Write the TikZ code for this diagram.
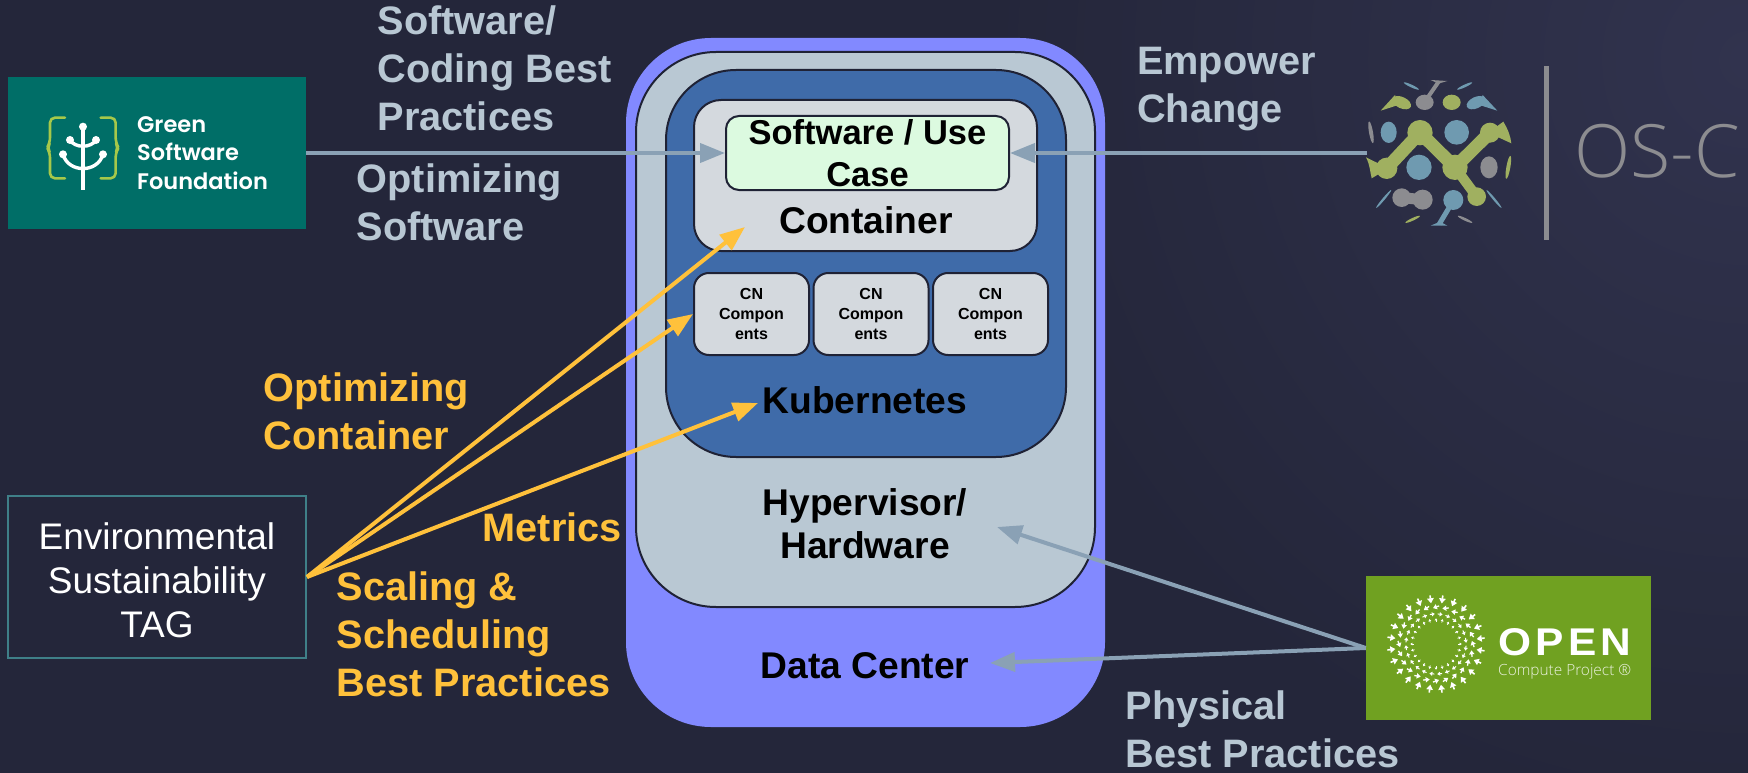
\documentclass[tikz,border=0pt]{standalone}
\usepackage{fontspec}
\usepackage{graphicx}
\usetikzlibrary{arrows.meta,calc}
\setmainfont{Liberation Sans}
\newfontfamily\poppfont{Poppins SemiBold}
\newfontfamily\lightfont{Open Sans Light}
\definecolor{bgbase}{HTML}{24263A}
\definecolor{bglight}{HTML}{31334E}
\definecolor{outerc}{HTML}{8289FF}
\definecolor{hyperc}{HTML}{B9C8D3}
\definecolor{kubec}{HTML}{3F6BA9}
\definecolor{contc}{HTML}{D4D9DE}
\definecolor{softc}{HTML}{DCFAE0}
\definecolor{strokec}{HTML}{1F2235}
\definecolor{arrowgray}{HTML}{8AA1B5}
\definecolor{labgray}{HTML}{B8C7D3}
\definecolor{labyellow}{HTML}{FFC13B}
\definecolor{gsfc}{HTML}{006E67}
\definecolor{ocpc}{HTML}{70A121}
\definecolor{gsfbrace}{HTML}{A6C84A}
\definecolor{gg}{HTML}{A0B060}
\definecolor{gb}{HTML}{6F9AB0}
\definecolor{gy}{HTML}{8C8C90}
\definecolor{tagc}{HTML}{3F7F88}
\newcommand\tl[1]{\begin{tabular}[t]{@{}l@{}}#1\end{tabular}}
\newcommand\tc[1]{\begin{tabular}[t]{@{}c@{}}#1\end{tabular}}
\tikzset{
  box/.style={draw=strokec,line width=2pt,rounded corners=#1,inner sep=0pt},
  graylab/.style={anchor=base west,inner sep=0pt,text=labgray,font=\fontsize{39.7}{48}\selectfont\bfseries},
  yellowlab/.style={anchor=base west,inner sep=0pt,text=labyellow,font=\fontsize{39.7}{48}\selectfont\bfseries},
  blacklab/.style={anchor=base,inner sep=0pt,text=black,font=\fontsize{37.2}{43}\selectfont\bfseries},
  cnbox/.style={box=15pt,fill=contc,minimum width=115pt,minimum height=82pt,align=center,text=black,font=\fontsize{16}{20}\selectfont\bfseries},
  grayarrow/.style={draw=arrowgray,line width=4pt,-{Triangle[length=25pt,width=19pt]}},
  yellowarrow/.style={draw=labyellow,line width=4pt,-{Triangle[length=25pt,width=19pt]}}
}
\begin{document}
\begin{tikzpicture}[x=1pt,y=-1pt]
\useasboundingbox (0,0) rectangle (1748,773);
\fill[bgbase] (0,0) rectangle (1748,773);
\begin{scope}
\clip (0,0) rectangle (1748,773);
\shade[inner color=bglight,outer color=bgbase] (1748,60) circle (760);
\end{scope}

% nested boxes
\node[rounded corners=85pt,fill=outerc,minimum width=479pt,minimum height=689pt,inner sep=0pt] (dc) at (865.5,382.5) {};
\node[box=80pt,fill=hyperc,minimum width=459pt,minimum height=555pt] (hv) at (865.5,329.5) {};
\node[box=70pt,fill=kubec,minimum width=400pt,minimum height=387pt] (k8s) at (866,263.5) {};
\node[box=27pt,fill=contc,minimum width=343pt,minimum height=151pt] (cont) at (865.5,175.5) {};
\node[box=13pt,fill=softc,minimum width=283pt,minimum height=74pt,align=center,text=black,font=\fontsize{34.5}{42}\selectfont\bfseries] (soft) at (867.5,153) {Software / Use\\Case};
\node[cnbox] (cn1) at (751.5,314) {CN\\Compon\\ents};
\node[cnbox] (cn2) at (871,314) {CN\\Compon\\ents};
\node[cnbox] (cn3) at (990.5,314) {CN\\Compon\\ents};

\node[blacklab] (contl) at (866,233) {Container};
\node[blacklab] (kubl) at (865,413) {Kubernetes};
\node[blacklab] (hvl) at (865,515) {\tc{Hypervisor/\\Hardware}};
\node[blacklab] (dcl) at (865,678) {Data Center};

% Green Software Foundation
\node[fill=gsfc,minimum width=298pt,minimum height=152pt,inner sep=0pt] (gsf) at (157,153) {};
\begin{scope}[shift={(0,50)},x=0.3333pt,y=-0.3333pt]
\draw[gsfbrace,line width=2.6pt,line cap=round,line join=round,rounded corners=5pt]
 (195,203) -- (150,203) -- (150,278) -- (141,293) -- (150,308) -- (150,385) -- (195,385);
\draw[gsfbrace,line width=2.6pt,line cap=round,line join=round,rounded corners=5pt]
 (302,203) -- (347,203) -- (347,278) -- (356,293) -- (347,308) -- (347,385) -- (302,385);
\draw[white,line width=3.6pt] (249,230) -- (249,420);
\draw[white,line width=3.4pt] (210,270) .. controls (225,295) and (273,295) .. (288,270);
\draw[white,line width=3.4pt] (189,313) .. controls (205,370) and (293,370) .. (309,313);
\fill[white] (249,230) circle (12) (210,270) circle (12) (288,270) circle (12) (189,313) circle (12) (309,313) circle (12);
\end{scope}
\node[anchor=base west,inner sep=0pt,text=white,font=\fontsize{22.5}{28.5}\selectfont\poppfont] (gsft) at (137,132) {\tl{Green\\Software\\Foundation}};

% OS-C logo
\begin{scope}[shift={(1340,50)},x=0.3333pt,y=-0.3333pt]
\draw[gg,line width=13pt,line join=round] (140,355) -- (240,248) -- (345,352) -- (450,248);
\draw[gg,line width=10pt] (345,352) -- (410,440);
\fill[gg] (240,248) circle (38) (345,352) circle (38) (140,355) circle (32) (450,248) circle (30) (410,440) circle (28);
\fill[gg] (145,355) -- (78,322) .. controls (90,345) and (90,365) .. (95,385) -- cycle;
\fill[gg] (445,248) -- (490,215) .. controls (505,240) and (512,260) .. (514,280) -- cycle;
\fill[gb] (146,247) ellipse [x radius=24,y radius=32];
\fill[gb] (350,247) circle (37);
\fill[gb] (237,352) circle (38);
\fill[gb] (340,450) circle (30);
\draw[gb,line width=5pt] (335,460) -- (298,522);
\fill[gb] (272,527) -- (322,527) -- (300,515) -- cycle;
\fill[gy] (447,352) ellipse [x radius=26,y radius=33];
\fill[gy] (185,443) circle (28) (248,449) circle (30);
\draw[gy,line width=11pt] (185,443) -- (248,449);
\fill[gy] (254,157) ellipse [x radius=27,y radius=23];
\draw[gy,line width=4pt] (258,150) -- (296,95);
\fill[gy] (272,90) -- (322,93) -- (295,101) -- cycle;
\fill[gg] (335,157) ellipse [x radius=27,y radius=23];
\fill[gg,rotate around={-25:(185,158)}] (185,158) ellipse [x radius=30,y radius=17];
\fill[gg] (122,182) -- (165,135) -- (175,165) -- cycle;
\fill[gb,rotate around={25:(408,158)}] (408,158) ellipse [x radius=30,y radius=17];
\fill[gb] (472,182) -- (428,135) -- (418,165) -- cycle;
\fill[gb,rotate around={-25:(214,108)}] (214,108) ellipse [x radius=25,y radius=4];
\fill[gb,rotate around={25:(374,108)}] (374,108) ellipse [x radius=25,y radius=4];
\fill[gy,rotate around={-80:(93,247)}] (93,247) ellipse [x radius=33,y radius=6];
\fill[gg,rotate around={80:(505,352)}] (505,352) ellipse [x radius=35,y radius=6];
\fill[gb,rotate around={50:(131,447)}] (131,447) ellipse [x radius=35,y radius=3.5];
\fill[gb,rotate around={-50:(462,447)}] (462,447) ellipse [x radius=35,y radius=3.5];
\fill[gg,rotate around={25:(218,508)}] (218,508) ellipse [x radius=24,y radius=4];
\fill[gy,rotate around={-25:(375,508)}] (375,508) ellipse [x radius=24,y radius=4];
\end{scope}
\coordinate (oscfree) at (1367,153);
\draw[gy,line width=5pt] (1546,66) -- (1546,240);
\node[anchor=base west,inner sep=0pt,text=gy,font=\fontsize{73.5}{74}\selectfont\lightfont] (osct) at (1574,178) {OS-C};

% Open Compute logo
\node[fill=ocpc,minimum width=285pt,minimum height=144pt,inner sep=0pt] (ocp) at (1508.5,648) {};
\begin{scope}[shift={(1436,644)},y=1pt]
\foreach \rr/\len/\rot/\wd/\off/\hl/\hw in {45/8/0/1.6/7/5/6.5, 37/6.5/-70/1.3/0/4/5.2, 30/5/90/1/7/3/4, 24/3.5/180/.7/0/2.2/2.8}{
  \foreach \i in {0,...,23}{
    \pgfmathsetmacro\aa{\i*15+\off}
    \pgfmathsetmacro\dd{\aa+180+\rot}
    \draw[white,line width=\wd pt,-{Triangle[length=\hl pt,width=\hw pt]}]
      ({\rr*cos(\aa)-\len/2*cos(\dd)},{\rr*sin(\aa)-\len/2*sin(\dd)}) --
      ({\rr*cos(\aa)+\len/2*cos(\dd)},{\rr*sin(\aa)+\len/2*sin(\dd)});
  }
}
\end{scope}
\node[anchor=base west,inner sep=0pt,text=white,font=\fontsize{30}{30}\selectfont\bfseries] (ocpo) at (1498,655) {\resizebox{133pt}{27pt}{\addfontfeature{LetterSpace=10}OPEN}};
\node[anchor=base west,inner sep=0pt,text=white!85!ocpc,font=\fontsize{19}{19}\selectfont\lightfont] (ocpt) at (1498,675) {\resizebox{133pt}{!}{Compute Project ®}};

% TAG
\node[draw=tagc,line width=2pt,minimum width=298pt,minimum height=162pt,inner sep=0pt] (tag) at (157,577) {};
\node[anchor=base,inner sep=0pt,text=white,font=\fontsize{37}{44}\selectfont] (tagt) at (157,549) {\tc{Environmental\\Sustainability\\TAG}};

% arrow ends
\coordinate (tipcont) at (745,227);
\coordinate (tipkube) at (758,403);
\coordinate (tiphv) at (997,527);
\coordinate (tipdc) at (990,663);

% connectors
\draw[grayarrow] (gsf.east) -- (soft.west);
\draw[grayarrow] (oscfree) -- (soft.east);
\draw[grayarrow] (ocp.west) -- (tiphv);
\draw[grayarrow] (ocp.west) -- (tipdc);
\draw[yellowarrow] (tag.east) -- (tipcont);
\draw[yellowarrow] (tag.east) -- (cn1.west);
\draw[yellowarrow] (tag.east) -- (tipkube);

% labels
\node[graylab] (l1) at (377.5,35) {\tl{Software/\\Coding Best\\Practices}};
\node[graylab] (l2) at (356.5,192) {\tl{Optimizing\\Software}};
\node[graylab] (l3) at (1137,75) {\tl{Empower\\Change}};
\node[graylab] (l4) at (1125.5,719) {\tl{Physical\\Best Practices}};
\node[yellowlab] (l5) at (263.5,401) {\tl{Optimizing\\Container}};
\node[yellowlab] (l6) at (482.5,541) {Metrics};
\node[yellowlab] (l7) at (336.5,600) {\tl{Scaling \&\\Scheduling\\Best Practices}};
\end{tikzpicture}
\end{document}
